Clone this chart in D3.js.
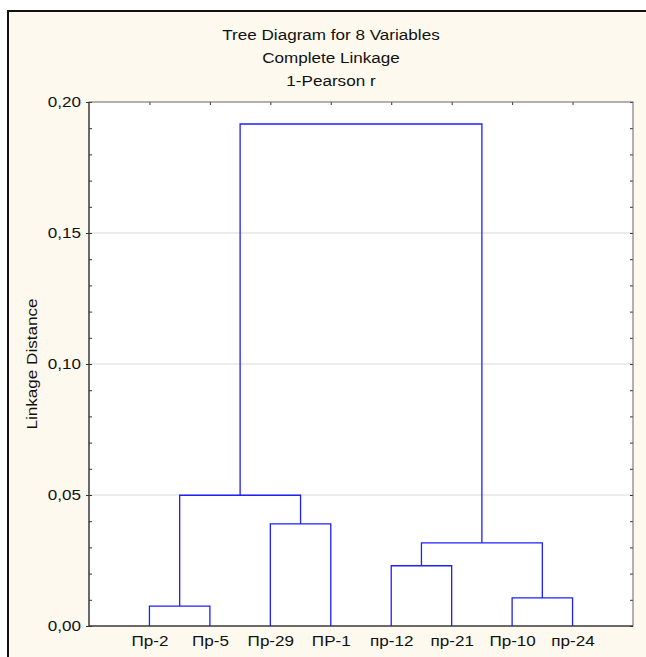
<!DOCTYPE html>
<html>
<head>
<meta charset="utf-8">
<script src="https://cdn.jsdelivr.net/npm/d3@7"></script>
<style>
  body { margin: 0; background: #fff; overflow: hidden; }
  text { font-family: Arial, "Liberation Sans", sans-serif; fill: #111; }
</style>
</head>
<body>
<div id="chart"></div>
<script>
// leaves of the tree, left to right
var leaves = ["Пр-2", "Пр-5", "Пр-29", "ПР-1", "пр-12", "пр-21", "Пр-10", "пр-24"];
// merges: children ids (0-7 leaves, 8+ earlier merges) and linkage distance
var mergeLeft   = [0, 2, 4, 6, 8, 10, 12];
var mergeRight  = [1, 3, 5, 7, 9, 11, 13];
var mergeHeight = [0.0076, 0.039, 0.023, 0.0107, 0.0499, 0.0317, 0.1916];
var yTicks = [0, 0.05, 0.10, 0.15, 0.20];
var titles = ["Tree Diagram for 8 Variables", "Complete Linkage", "1-Pearson r"];

var W = 646, H = 657;
var margin = {top: 102, right: 13, bottom: 31, left: 89},
    width = W - margin.left - margin.right,
    height = H - margin.top - margin.bottom;

var comma = d3.formatLocale({decimal: ",", thousands: " ", grouping: [3], currency: ["", ""]}).format(".2f");

var svg = d3.select("#chart").append("svg")
    .attr("width", W)
    .attr("height", H)
    .style("display", "block");

// outer frame (only left and top edges are inside the window)
svg.append("rect")
    .attr("x", 8).attr("y", 11)
    .attr("width", W).attr("height", H)
    .style("fill", "#fdf9ee");
svg.append("path")
    .attr("d", "M8," + H + "V11H" + W)
    .style("fill", "none")
    .style("stroke", "#111")
    .style("stroke-width", 2);

svg.selectAll(".title")
    .data(titles)
    .enter().append("text")
    .attr("class", "title")
    .attr("x", 331)
    .attr("y", function(d, i) { return 40 + i * 23; })
    .attr("text-anchor", "middle")
    .text(function(d) { return d; });

var g = svg.append("g")
    .attr("transform", "translate(" + margin.left + "," + margin.top + ")");

var xScale = d3.scaleLinear().domain([0, 9]).range([0, width]);
var yScale = d3.scaleLinear().domain([0, 0.20]).range([height, 0]);

g.append("rect")
    .attr("width", width).attr("height", height)
    .style("fill", "#fff");

// grid
g.selectAll(".grid")
    .data(yTicks.slice(1, 4))
    .enter().append("line")
    .attr("class", "grid")
    .attr("x1", 0).attr("x2", width)
    .attr("y1", function(d) { return yScale(d); })
    .attr("y2", function(d) { return yScale(d); })
    .style("stroke", "#d9d9d9");

var minor = d3.range(0, 21).map(function(i) { return i / 100; });

// left axis with labels
var yAxis = g.append("g")
    .call(d3.axisLeft(yScale).tickValues(yTicks).tickFormat(comma).tickSize(3).tickPadding(5));
yAxis.select(".domain").remove();
yAxis.selectAll("line").style("stroke", "#333");

// inner minor ticks
g.append("g").call(d3.axisRight(yScale).tickValues(minor).tickFormat("").tickSize(3))
    .call(function(a) { a.select(".domain").remove(); a.selectAll("line").style("stroke", "#333"); });
g.append("g").attr("transform", "translate(" + width + ",0)")
    .call(d3.axisLeft(yScale).tickValues(minor).tickFormat("").tickSize(3))
    .call(function(a) { a.select(".domain").remove(); a.selectAll("line").style("stroke", "#333"); });
g.append("g")
    .call(d3.axisBottom(xScale).tickValues(d3.range(1, 9)).tickFormat("").tickSize(3))
    .call(function(a) { a.select(".domain").remove(); a.selectAll("line").style("stroke", "#333"); });

// bottom axis labels
var xAxis = g.append("g")
    .attr("transform", "translate(0," + height + ")")
    .call(d3.axisBottom(xScale).tickValues(d3.range(1, 9))
      .tickFormat(function(d) { return leaves[d - 1]; }).tickSize(0).tickPadding(10));
xAxis.select(".domain").remove();

// plot border
g.append("rect")
    .attr("width", width).attr("height", height)
    .style("fill", "none")
    .style("stroke", "#666");
g.append("path")
    .attr("d", "M0,0V" + height + "H" + width)
    .style("fill", "none")
    .style("stroke", "#222");

// dendrogram
var nodeX = leaves.map(function(d, i) { return xScale(i + 1); });
var nodeH = leaves.map(function() { return 0; });
var links = [];
mergeHeight.forEach(function(h, i) {
  var a = mergeLeft[i], b = mergeRight[i];
  links.push({x1: nodeX[a], h1: nodeH[a], x2: nodeX[b], h2: nodeH[b], h: h});
  nodeX.push((nodeX[a] + nodeX[b]) / 2);
  nodeH.push(h);
});

g.selectAll(".link")
    .data(links)
    .enter().append("path")
    .attr("class", "link")
    .attr("d", function(d) {
      return "M" + d.x1 + "," + yScale(d.h1) + "V" + yScale(d.h) +
             "H" + d.x2 + "V" + yScale(d.h2);
    })
    .style("fill", "none")
    .style("stroke", "#1f1fff")
    .style("stroke-width", 1.3);

svg.append("text")
    .attr("transform", "translate(37," + (margin.top + height / 2) + ") rotate(-90)")
    .attr("text-anchor", "middle")
    .text("Linkage Distance");

// the source font is drawn wider than Arial: stretch every label
svg.selectAll("text")
    .style("font-size", "14px")
    .style("fill", "#111")
    .each(function() {
      var len = this.getComputedTextLength();
      d3.select(this)
        .attr("textLength", len * 1.22)
        .attr("lengthAdjust", "spacingAndGlyphs");
    });
</script>
</body>
</html>
